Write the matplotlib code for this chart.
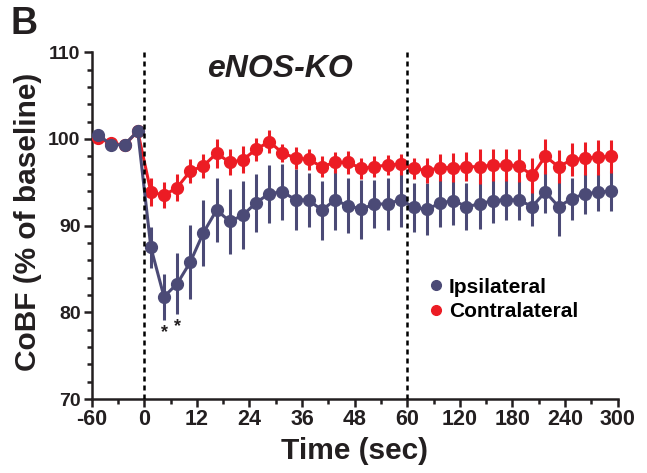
import numpy as np
import matplotlib
matplotlib.use("Agg")
import matplotlib.pyplot as plt
from matplotlib.lines import Line2D
from matplotlib.ticker import FixedLocator

plt.rcParams['font.family'] = ['Liberation Sans', 'DejaVu Sans']
plt.rcParams['font.weight'] = 'bold'

# tiempos (s): basal, 0-60 s cada 3 s, 60-300 s cada 15 s
tiempo = [-52.5, -37.5, -22.5, -7.5,
          1.5, 4.5, 7.5, 10.5, 13.5, 16.5, 19.5, 22.5, 25.5, 28.5,
          31.5, 34.5, 37.5, 40.5, 43.5, 46.5, 49.5, 52.5, 55.5, 58.5,
          67.5, 82.5, 97.5, 112.5, 127.5, 142.5, 157.5, 172.5,
          187.5, 202.5, 217.5, 232.5, 247.5, 262.5, 277.5, 292.5]

ipsi = [100.5, 99.3, 99.35, 100.9,
        87.5, 81.8, 83.3, 85.8, 89.2, 91.8, 90.5, 91.2, 92.65, 93.7,
        93.9, 93.0, 92.95, 91.8, 92.95, 92.3, 91.9, 92.5, 92.5, 93.0,
        92.1, 91.9, 92.6, 92.9, 92.2, 92.5, 92.9, 93.0,
        92.95, 92.2, 93.9, 92.2, 93.1, 93.7, 93.85, 94.0]
ipsi_sem = [0.2, 0.2, 0.2, 0.2,
            2.4, 2.65, 3.5, 4.3, 3.8, 3.65, 3.75, 3.9, 3.35, 3.35,
            3.2, 3.5, 3.1, 3.4, 3.5, 3.2, 3.4, 2.8, 3.0, 3.1,
            2.8, 3.0, 2.7, 2.8, 2.7, 2.9, 2.6, 2.35,
            2.25, 2.2, 2.4, 3.4, 2.4, 2.3, 2.15, 2.3]

contra = [100.1, 99.5, 99.3, 100.9,
          93.9, 93.5, 94.4, 96.3, 96.9, 98.35, 97.3, 97.6, 98.8, 99.7,
          98.4, 97.8, 97.65, 96.8, 97.3, 97.3, 96.6, 96.8, 97.0, 97.1,
          96.6, 96.35, 96.7, 96.7, 96.8, 96.8, 97.0, 97.0,
          96.9, 95.8, 98.0, 96.8, 97.6, 97.8, 97.9, 98.0]
contra_sem = [0.2, 0.2, 0.2, 0.2,
              1.6, 1.5, 1.55, 1.4, 1.4, 1.7, 1.5, 1.55, 1.3, 1.3,
              1.0, 1.3, 1.2, 1.2, 1.2, 1.3, 1.2, 1.2, 1.2, 1.2,
              1.2, 1.4, 1.6, 1.7, 1.7, 2.0, 1.8, 1.8,
              1.9, 2.0, 2.0, 1.9, 1.9, 1.9, 2.0, 1.9]

ticks_x = [-60, 0, 12, 24, 36, 48, 60, 120, 180, 240, 300]
ticks_x_menor = [-30, 6, 18, 30, 42, 54, 90, 150, 210, 270]
asteriscos = [4.5, 7.5]  # p < 0.05

AZUL = '#4b4a76'
ROJO = '#ec1c24'
NEGRO = '#231f20'

# eje x segmentado: -60..0, 0..60 y 60..300 con distinta escala
tramos_t = [-60, 0, 60, 300]
tramos_p = [0, 1, 6, 10]


def adelante(x):
    return np.interp(x, tramos_t, tramos_p)


def atras(p):
    return np.interp(p, tramos_p, tramos_t)


fig = plt.figure(figsize=(6.47, 4.73), dpi=100)
ax = fig.add_axes([0.1417, 0.1564, 0.813, 0.733])
ax.set_xscale('function', functions=(adelante, atras))

ax.errorbar(tiempo, ipsi, yerr=ipsi_sem, fmt='none', ecolor=AZUL,
            elinewidth=2.2, capsize=0, zorder=2)
ax.errorbar(tiempo, contra, yerr=contra_sem, fmt='none', ecolor=ROJO,
            elinewidth=2.2, capsize=0, zorder=3)
ax.plot(tiempo, contra, '-o', color=ROJO, lw=2.2, ms=8.5, zorder=4)
ax.plot(tiempo, ipsi, '-o', color=AZUL, lw=2.2, ms=8.5, zorder=5)

for t in [0, 60]:
    ax.axvline(t, color='black', lw=1.8, ls=(0, (2, 1.6)), zorder=6)

for t in asteriscos:
    i = tiempo.index(t)
    ax.text(t, ipsi[i] - ipsi_sem[i] - 0.5, '*', ha='center', va='top',
            fontsize=13, color=NEGRO, zorder=6)

ax.set_xlim(-60, 300)
ax.set_ylim(70, 110)
ax.xaxis.set_major_locator(FixedLocator(ticks_x))
ax.xaxis.set_minor_locator(FixedLocator(ticks_x_menor))
ax.set_xticklabels([str(t) for t in ticks_x])
ax.set_yticks([70, 80, 90, 100, 110])
ax.set_yticks(np.arange(70, 111, 2), minor=True)

for lado in ['top', 'right']:
    ax.spines[lado].set_visible(False)
for lado in ['left', 'bottom']:
    ax.spines[lado].set_linewidth(1.8)
    ax.spines[lado].set_color(NEGRO)
ax.tick_params(which='major', length=6, width=1.8, colors=NEGRO, pad=2)
ax.tick_params(which='minor', length=3.5, width=1.8, colors=NEGRO)
ax.tick_params(axis='x', which='major', labelsize=15.5, pad=1.5)
ax.tick_params(axis='y', which='major', labelsize=14)

ax.set_xlabel('Time (sec)', fontsize=21.5, fontweight='bold', labelpad=5,
              color=NEGRO)
ax.set_ylabel('CoBF (% of baseline)', fontsize=21.5, fontweight='bold',
              color=NEGRO)
ax.yaxis.set_label_coords(-0.094, 0.51)

ax.text(0.357, 0.953, 'eNOS-KO', transform=ax.transAxes, ha='center',
        va='center', fontsize=23, fontweight='bold', fontstyle='italic',
        color=NEGRO)
fig.text(0.016, 0.988, 'B', ha='left', va='top', fontsize=27,
         fontweight='bold', color=NEGRO)

handles = [Line2D([], [], ls='none', marker='o', ms=7, color=AZUL),
           Line2D([], [], ls='none', marker='o', ms=7, color=ROJO)]
ax.legend(handles, ['Ipsilateral', 'Contralateral'], loc='upper left',
          bbox_to_anchor=(0.622, 0.38), frameon=False, handlelength=0.6,
          handletextpad=0.35, borderpad=0, labelspacing=0.25,
          prop={'size': 15, 'weight': 'bold'})

fig.savefig('out.png', dpi=100)
